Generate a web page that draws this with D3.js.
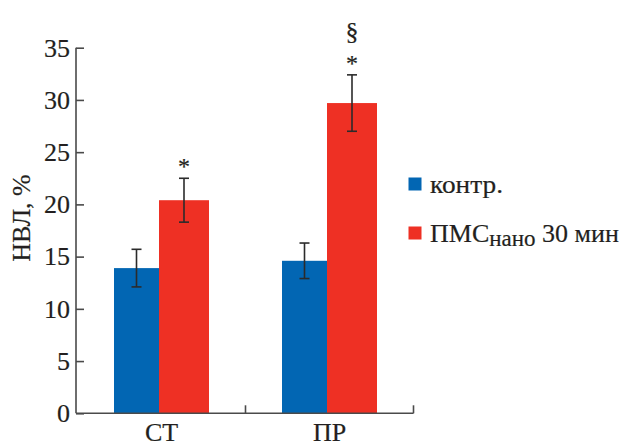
<!DOCTYPE html>
<html>
<head>
<meta charset="utf-8">
<script src="https://cdn.jsdelivr.net/npm/d3@7"></script>
<style>
  html, body { margin: 0; padding: 0; background: #fff; }
  svg text { stroke: #231f20; stroke-width: 0.2px; }
</style>
</head>
<body>
<svg id="chart" width="626" height="443" font-family="'Liberation Serif', 'DejaVu Serif', serif"></svg>
<script>
// Groups along the x axis
const categories = ["СТ", "ПР"];
// Series: control and ПМС-нано 30 min
const seriesKeys = ["ctrl", "pms"];
const controlValues = [13.9, 14.6];
const controlErrors = [1.8, 1.7];
const pmsValues = [20.4, 29.7];
const pmsErrors = [2.1, 2.7];
// Significance marks above the ПМС bars
const pmsMarks = [["*"], ["*", "§"]];
// Y axis ticks
const yTicks = [0, 5, 10, 15, 20, 25, 30, 35];

const colors = { ctrl: "#0266b3", pms: "#ee3024" };
const axisColor = "#4a4a4a";
const textColor = "#231f20";

const svg = d3.select("#chart");

const x = d3.scaleBand().domain(categories).range([77.5, 413.5]).paddingInner(0).paddingOuter(0);
const y = d3.scaleLinear().domain([0, 35]).range([413.3, 47.7]);

// Bar layout inside a group: control bar then the slightly wider ПМС bar
const groupInset = 36.5;
const barOffset = { ctrl: 0, pms: 45 };
const barWidth = { ctrl: 45, pms: 50 };

const rows = [];
categories.forEach((c, i) => {
  rows.push({ cat: c, key: "ctrl", value: controlValues[i], err: controlErrors[i], marks: [] });
  rows.push({ cat: c, key: "pms", value: pmsValues[i], err: pmsErrors[i], marks: pmsMarks[i] });
});
const barX = d => x(d.cat) + groupInset + barOffset[d.key];
const barCx = d => barX(d) + barWidth[d.key] / 2;

// Bars
svg.append("g").selectAll("rect").data(rows).join("rect")
  .attr("x", barX)
  .attr("y", d => y(d.value))
  .attr("width", d => barWidth[d.key])
  .attr("height", d => y(0) - y(d.value))
  .attr("fill", d => colors[d.key]);

// Error bars
const eb = svg.append("g").attr("stroke", "#2b2b2b").attr("stroke-width", 1.6).attr("fill", "none");
rows.forEach(d => {
  const cx = barCx(d), yt = y(d.value + d.err), yb = y(d.value - d.err);
  eb.append("line").attr("x1", cx).attr("x2", cx).attr("y1", yt).attr("y2", yb);
  eb.append("line").attr("x1", cx - 5).attr("x2", cx + 5).attr("y1", yt).attr("y2", yt);
  eb.append("line").attr("x1", cx - 5).attr("x2", cx + 5).attr("y1", yb).attr("y2", yb);
});

// Significance marks
rows.forEach(d => {
  d.marks.forEach(m => {
    const top = y(d.value + d.err);
    svg.append("text")
      .attr("x", barCx(d))
      .attr("y", m === "*" ? top - 4 : top - 35)
      .attr("text-anchor", "middle")
      .attr("font-size", m === "*" ? 24 : 26)
      .attr("fill", textColor)
      .text(m);
  });
});

// Y axis: ticks point inward
const yAxis = svg.append("g").attr("transform", `translate(76,0)`)
  .call(d3.axisRight(y).tickValues(yTicks).tickSize(8).tickFormat(""));
yAxis.select(".domain").attr("stroke", axisColor).attr("stroke-width", 1.6).attr("d", `M0,${y(35)}V${y(0)}`);
yAxis.selectAll(".tick line").attr("stroke", axisColor).attr("stroke-width", 1.6);

svg.append("g").selectAll("text").data(yTicks).join("text")
  .attr("x", 70)
  .attr("y", d => y(d))
  .attr("dy", "0.34em")
  .attr("text-anchor", "end")
  .attr("font-size", 26)
  .attr("fill", textColor)
  .text(d => d);

// X axis with separator ticks between groups
const xAxisY = y(0);
const xg = svg.append("g").attr("stroke", axisColor).attr("stroke-width", 1.6);
xg.append("line").attr("x1", 76).attr("x2", x.range()[1]).attr("y1", xAxisY).attr("y2", xAxisY);
categories.forEach(c => {
  const xe = x(c) + x.bandwidth();
  xg.append("line").attr("x1", xe).attr("x2", xe).attr("y1", xAxisY).attr("y2", xAxisY - 8);
});

svg.append("g").selectAll("text").data(categories).join("text")
  .attr("x", d => x(d) + x.bandwidth() / 2)
  .attr("y", 441)
  .attr("text-anchor", "middle")
  .attr("font-size", 26)
  .attr("fill", textColor)
  .text(d => d);

// Y axis title
svg.append("text")
  .attr("transform", "translate(30,218) rotate(-90)")
  .attr("text-anchor", "middle")
  .attr("font-size", 26)
  .attr("fill", textColor)
  .text("НВЛ, %");

// Legend
const legend = svg.append("g").attr("fill", textColor);
legend.append("rect").attr("x", 408.5).attr("y", 177.5).attr("width", 13).attr("height", 13).attr("fill", colors.ctrl);
legend.append("text").attr("x", 430).attr("y", 193).attr("font-size", 26)
  .attr("textLength", 73).attr("lengthAdjust", "spacingAndGlyphs").text("контр.");
legend.append("rect").attr("x", 408.5).attr("y", 226.5).attr("width", 13).attr("height", 13).attr("fill", colors.pms);
const lt = legend.append("text").attr("x", 430).attr("y", 242).attr("font-size", 26);
lt.append("tspan").text("ПМС");
lt.append("tspan").attr("font-size", 23).attr("dy", 4).text("нано");
lt.append("tspan").attr("dy", -4).text(" 30 мин");
</script>
</body>
</html>
